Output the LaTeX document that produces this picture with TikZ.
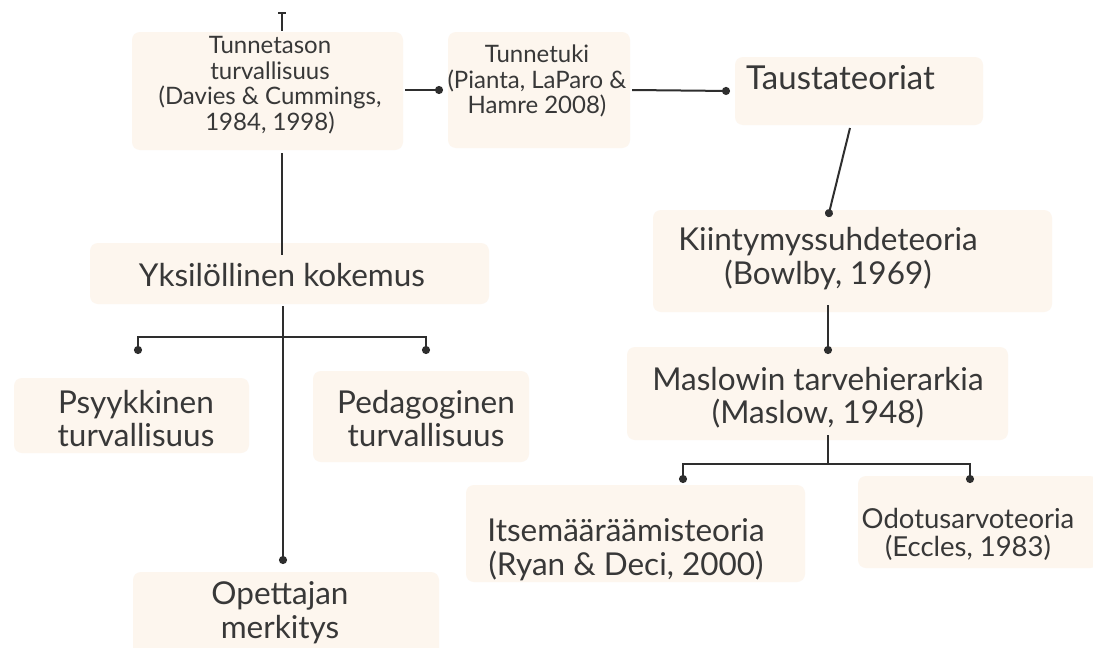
\documentclass[tikz,border=0pt]{standalone}
\usepackage{fontspec}
\setmainfont{Lato}
\usetikzlibrary{arrows.meta}
\definecolor{boxfill}{HTML}{FDF6EE}
\definecolor{ink}{HTML}{2E2E2E}
\definecolor{txt}{HTML}{383838}
\tikzset{
  bx/.style={fill=boxfill, draw=none, rounded corners=8pt, inner sep=0pt},
  lbl/.style={text=txt, align=center, inner sep=0pt},
  big/.style={lbl, font=\fontsize{31.5}{33.5}\selectfont},
  tau/.style={lbl, font=\fontsize{33}{33}\selectfont},
  mid/.style={lbl, font=\fontsize{27.5}{28}\selectfont},
  sml/.style={lbl, font=\fontsize{24}{25.5}\selectfont},
  con/.style={draw=ink, line width=2pt},
  dotend/.style={con, -{Circle[length=8pt]}},
}
\begin{document}
\begin{tikzpicture}[x=1pt,y=-1pt]
\useasboundingbox (0,0) rectangle (1093,648);
\fill[white] (0,0) rectangle (1093,648);
% boxes
\node[bx, minimum width=271, minimum height=118] (tun) at (267.5,91) {};
\node[bx, minimum width=182, minimum height=116] (tuk) at (539,90) {};
\node[bx, minimum width=248, minimum height=68] (taus) at (859,91) {};
\node[bx, minimum width=399, minimum height=102] (kii) at (852.5,261) {};
\node[bx, minimum width=381, minimum height=93] (mas) at (817.5,393.5) {};
\node[bx, minimum width=399, minimum height=61] (yks) at (289.5,273.5) {};
\node[bx, minimum width=235, minimum height=75] (psy) at (131.5,415.5) {};
\node[bx, minimum width=216, minimum height=91] (ped) at (421,416.5) {};
\node[bx, minimum width=306, minimum height=100] (ope) at (286,622) {};
\node[bx, minimum width=339, minimum height=97] (its) at (635.5,533.5) {};
\node[bx, minimum width=240, minimum height=92] (odo) at (978,522) {};
% texts
\node[sml] (tunt) at (270,85) {Tunnetason\\turvallisuus\\(Davies \& Cummings,\\1984, 1998)};
\node[sml] (tukt) at (537,81) {Tunnetuki\\(Pianta, LaParo \&\\Hamre 2008)};
\node[tau, anchor=west] (taust) at (746,78) {Taustateoriat};
\node[big] (kiit) at (828,258.5) {Kiintymyssuhdeteoria\\(Bowlby, 1969)};
\node[big] (mast) at (818,397.5) {Maslowin tarvehierarkia\\(Maslow, 1948)};
\node[big] (ykst) at (282,275) {Yksilöllinen kokemus};
\node[big] (psyt) at (136,418.5) {Psyykkinen\\turvallisuus};
\node[big] (pedt) at (426,418.5) {Pedagoginen\\turvallisuus};
\node[big] (opet) at (280,612.5) {Opettajan\\merkitys};
\node[big] (itst) at (626,549.5) {Itsemääräämisteoria\\(Ryan \& Deci, 2000)};
\node[mid] (odot) at (968,534) {Odotusarvoteoria\\(Eccles, 1983)};
% connector helpers
\coordinate (topend) at (282,12);
\coordinate (tunbot) at (282,153);
\coordinate (tuntop) at (282,31);
\coordinate (ykstop) at (282,255);
\coordinate (yksbot) at (283,306);
\coordinate (yksbar) at (283,337);
\coordinate (psyd) at (138,354);
\coordinate (pedd) at (426,354);
\coordinate (oped) at (283,564);
\coordinate (tukd) at (443,90);
\coordinate (tausd) at (730,91);
\coordinate (tausb) at (850,128);
\coordinate (kiid) at (828,217);
\coordinate (kiib) at (828,305);
\coordinate (masd) at (828,354);
\coordinate (masb) at (828,435);
\coordinate (masbar) at (828,464);
\coordinate (itsd) at (683,483);
\coordinate (odod) at (970,483);
% connectors
\draw[con, {Bar[width=8pt,length=2pt]}-] (topend) -- (tuntop);
\draw[con] (tunbot) -- (ykstop);
\draw[dotend] (tun.east |- tukd) ++(2,0) -- (tukd);
\draw[dotend] (tuk.east |- tukd) ++(2,0) -- (tausd);
\draw[dotend] (tausb) -- (kiid);
\draw[dotend] (kiib) -- (masd);
\draw[dotend] (yksbot) -- (oped);
\draw[dotend] (yksbar) -| (psyd);
\draw[dotend] (yksbar) -| (pedd);
\draw[con] (masb) -- (masbar);
\draw[dotend] (masbar) -| (itsd);
\draw[dotend] (masbar) -| (odod);
\end{tikzpicture}
\end{document}
